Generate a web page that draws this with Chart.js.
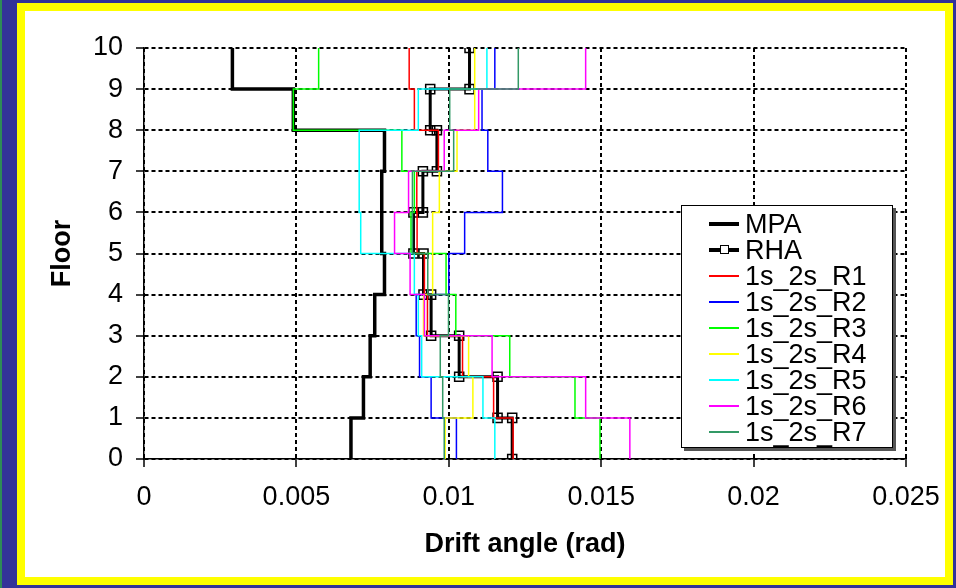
<!DOCTYPE html>
<html>
<head>
<meta charset="utf-8">
<script src="https://cdn.jsdelivr.net/npm/chart.js@4/dist/chart.umd.min.js"></script>
<style>
  html, body { margin: 0; padding: 0; }
  body { width: 956px; height: 588px; background: #333399; position: relative; overflow: hidden;
         font-family: "Liberation Sans", Arial, sans-serif; }
  #edge { position: absolute; left: 0; top: 0; width: 2px; height: 588px; background: #2e8b57; }
  #frame { position: absolute; left: 17px; top: 3px; width: 920px; height: 566px;
           border: 8px solid #ffff00; background: #fff; }
  #myChart { position: absolute; left: 0; top: 0; }
  #legend { position: absolute; left: 681px; top: 205px; width: 210px; height: 241px;
            border: 1px solid #000; background: #fff; box-shadow: 3px 3px 0 #555; }
  .row { position: absolute; left: 0; height: 26px; width: 210px; }
  .sample { position: absolute; left: 27px; width: 30px; top: 12px; }
  .mark { position: absolute; left: 38px; top: 8px; width: 7px; height: 7px;
          border: 1.5px solid #000; background: #fff; }
  .label { position: absolute; left: 63px; top: -2px; font-size: 27px; line-height: 30px; color: #000; }
</style>
</head>
<body>
<div id="edge"></div>
<div id="frame"></div>
<canvas id="myChart" width="956" height="588"></canvas>
<div id="legend"></div>
<script>
// story drift per story (story 1 = floor 0..1, story 10 = floor 9..10)
const floorTicks = [0, 1, 2, 3, 4, 5, 6, 7, 8, 9, 10];
const driftTicks = [0, 0.005, 0.01, 0.015, 0.02, 0.025];
const seriesNames = ['MPA', 'RHA', '1s_2s_R1', '1s_2s_R2', '1s_2s_R3', '1s_2s_R4', '1s_2s_R5', '1s_2s_R6', '1s_2s_R7'];

const mpa = [0.00679, 0.00720, 0.00742, 0.00757, 0.00789, 0.00780, 0.00780, 0.00789, 0.00490, 0.00290];
const rha = [0.01208, 0.01160, 0.01034, 0.00942, 0.00917, 0.00884, 0.00915, 0.00961, 0.00939, 0.01068];
const r1 = [0.01211, 0.01147, 0.01045, 0.00930, 0.00920, 0.00896, 0.00895, 0.00966, 0.00887, 0.00870];
const r2 = [0.01025, 0.00942, 0.00904, 0.00893, 0.01000, 0.01052, 0.01176, 0.01128, 0.01109, 0.01151];
const r3 = [0.01496, 0.01414, 0.01200, 0.01023, 0.00991, 0.00876, 0.00887, 0.00846, 0.00490, 0.00573];
const r4 = [0.00988, 0.01079, 0.01065, 0.00917, 0.00945, 0.00948, 0.00969, 0.01027, 0.01085, 0.01085];
const r5 = [0.01151, 0.01112, 0.00911, 0.00900, 0.00887, 0.00711, 0.00706, 0.00706, 0.00900, 0.01125];
const r6 = [0.01594, 0.01449, 0.01142, 0.00920, 0.00873, 0.00822, 0.00868, 0.00985, 0.01098, 0.01449];
const r7 = [0.00985, 0.00980, 0.00972, 0.00999, 0.00931, 0.00880, 0.00881, 0.01016, 0.01003, 0.01228];

const allSeries = [mpa, rha, r1, r2, r3, r4, r5, r6, r7];
const colors = ['#000000', '#000000', '#ff0000', '#0000ff', '#00ff00', '#ffff00', '#00ffff', '#ff00ff', '#339966'];

// turn story drifts into a step outline: (d,floor-1) -> (d,floor)
function stepPoints(drifts) {
    const pts = [];
    drifts.forEach((d, i) => {
        pts.push({ x: d, y: i });
        pts.push({ x: d, y: i + 1 });
    });
    return pts;
}

const fontFamily = '"Liberation Sans", Arial, sans-serif';

const datasets = allSeries.map((s, i) => ({
    label: seriesNames[i],
    data: stepPoints(s),
    borderColor: colors[i],
    backgroundColor: colors[i],
    borderWidth: i === 0 ? 3.5 : (i === 1 ? 3 : 1.5),
    showLine: true,
    fill: false,
    tension: 0,
    pointRadius: i === 1 ? 6.4 : 0,
    pointStyle: 'rect',
    pointBorderWidth: 1.5,
    pointBorderColor: '#000',
    pointBackgroundColor: 'rgba(0,0,0,0)',
    order: 20 - i
}));

const ctx = document.getElementById('myChart').getContext('2d');
new Chart(ctx, {
    type: 'scatter',
    data: { datasets: datasets },
    options: {
        responsive: false,
        animation: false,
        devicePixelRatio: 1,
        layout: { padding: { left: 0, top: 48, right: 50, bottom: 0 } },
        plugins: { legend: { display: false }, tooltip: { enabled: false } },
        scales: {
            x: {
                type: 'linear',
                min: 0,
                max: 0.025,
                afterFit: scale => { scale.height = 129; },
                afterBuildTicks: scale => { scale.ticks = driftTicks.map(v => ({ value: v })); },
                ticks: {
                    color: '#000',
                    padding: 14,
                    maxRotation: 0,
                    font: { family: fontFamily, size: 27 },
                    callback: v => String(+v.toFixed(3))
                },
                grid: { color: '#000', lineWidth: 2, tickLength: 8, tickColor: '#000', tickWidth: 1.5, tickBorderDash: [] },
                border: { display: true, color: '#000', width: 1.5, dash: [4, 3] },
                title: {
                    display: true,
                    text: 'Drift angle (rad)',
                    color: '#000',
                    padding: { top: 0, bottom: 27 },
                    font: { family: fontFamily, size: 27, weight: 'bold' }
                }
            },
            y: {
                type: 'linear',
                min: 0,
                max: 10,
                afterFit: scale => { scale.width = 144; },
                afterBuildTicks: scale => { scale.ticks = floorTicks.map(v => ({ value: v })); },
                ticks: {
                    color: '#000',
                    padding: 13,
                    font: { family: fontFamily, size: 27 }
                },
                grid: { color: '#000', lineWidth: 2, tickLength: 8, tickColor: '#000', tickWidth: 1.5, tickBorderDash: [] },
                border: { display: true, color: '#000', width: 1.5, dash: [4, 3] },
                title: {
                    display: true,
                    text: 'Floor',
                    color: '#000',
                    padding: { top: 46, bottom: 0 },
                    font: { family: fontFamily, size: 27, weight: 'bold' }
                }
            }
        }
    }
});

// legend box inside the plot
const legend = document.getElementById('legend');
datasets.forEach((ds, i) => {
    const row = document.createElement('div');
    row.className = 'row';
    row.style.top = (5 + i * 26) + 'px';
    const sample = document.createElement('div');
    sample.className = 'sample';
    sample.style.borderTop = (i < 2 ? 4 : 2) + 'px solid ' + ds.borderColor;
    sample.style.top = (i < 2 ? 11 : 12) + 'px';
    row.appendChild(sample);
    if (i === 1) {
        const mark = document.createElement('div');
        mark.className = 'mark';
        row.appendChild(mark);
    }
    const label = document.createElement('div');
    label.className = 'label';
    label.textContent = ds.label;
    row.appendChild(label);
    legend.appendChild(row);
});
</script>
</body>
</html>
